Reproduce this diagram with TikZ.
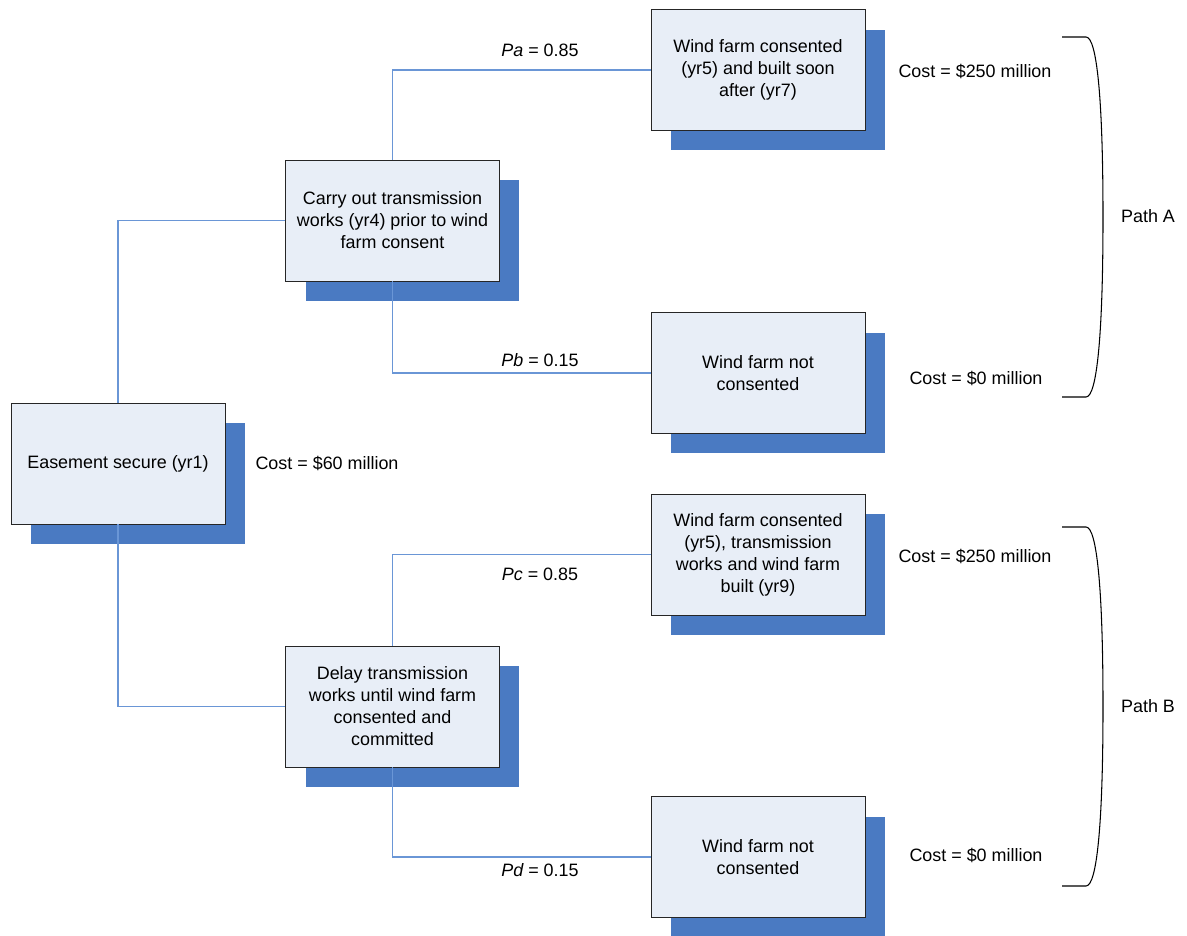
\documentclass[tikz,border=0pt]{standalone}
\usepackage{fontspec}
\setmainfont{Liberation Sans}
\usetikzlibrary{positioning,shadows}
\definecolor{Shade}{HTML}{4A7AC2}
\definecolor{PaleBlue}{HTML}{E8EEF7}
\definecolor{Link}{HTML}{6A96D6}
\tikzset{
  stage/.style={draw=black!85,fill=PaleBlue,line width=.5pt,minimum width=4.28cm,minimum height=2.42cm,align=center,inner sep=2pt,font=\fontsize{10.2}{12.5}\selectfont,drop shadow={shadow xshift=.4cm,shadow yshift=-.4cm,fill=Shade,opacity=1}},
  lbl/.style={inner sep=0pt,font=\fontsize{10.2}{12.5}\selectfont},
  link/.style={draw=Link,line width=.6pt},
  brace/.style={draw=black,line width=.6pt},
}

\begin{document}
\begin{tikzpicture}[x=0.02cm,y=-0.02cm]
        \useasboundingbox (0,0) rectangle (1187,936);
        % boxes
        \node[stage] (e) at (118,463.5) {Easement secure (yr1)};
        \node[stage] (c) at (392.5,220.5) {Carry out transmission\\works (yr4) prior to wind\\farm consent};
        \node[stage] (d) at (392.5,706.5) {Delay transmission\\works until wind farm\\consented and\\committed};
        \node[stage] (wa) at (758,70) {Wind farm consented\\(yr5) and built soon\\after (yr7)};
        \node[stage] (na) at (758,373) {Wind farm not\\consented};
        \node[stage] (wb) at (758,554.5) {Wind farm consented\\(yr5), transmission\\works and wind farm\\built (yr9)};
        \node[stage] (nb) at (758,857) {Wind farm not\\consented};
        % branches
        \draw[link] (e.north) |- (c.west);
        \draw[link] (e.south) |- (d.west);
        \draw[link] (c.north) |- (wa.west);
        \draw[link] (c.south) |- (na.west);
        \draw[link] (d.north) |- (wb.west);
        \draw[link] (d.south) |- (nb.west);
        % probabilities
        \node[lbl] (pa) at (540,50) {{\itshape Pa} = 0.85};
        \node[lbl] (pb) at (540,360) {{\itshape Pb} = 0.15};
        \node[lbl] (pc) at (540,574) {{\itshape Pc} = 0.85};
        \node[lbl] (pd) at (540,870) {{\itshape Pd} = 0.15};
        % costs
        \node[lbl] (ce) at (327,463) {Cost = \$60 million};
        \node[lbl] (cwa) at (975,71) {Cost = \$250 million};
        \node[lbl] (cna) at (976,378) {Cost = \$0 million};
        \node[lbl] (cwb) at (975,556) {Cost = \$250 million};
        \node[lbl] (cnb) at (976,855) {Cost = \$0 million};
        % paths
        \draw[brace] (1062,37) -- (1086,37) .. controls (1097,37) and (1103,100) .. (1103,217)
          .. controls (1103,334) and (1097,397) .. (1086,397) -- (1062,397);
        \draw[brace] (1062,527) -- (1086,527) .. controls (1097,527) and (1103,590) .. (1103,706.5)
          .. controls (1103,823) and (1097,886) .. (1086,886) -- (1062,886);
        \node[lbl] (patha) at (1148,216) {Path A};
        \node[lbl] (pathb) at (1148,706) {Path B};
      \end{tikzpicture}
\end{document}
